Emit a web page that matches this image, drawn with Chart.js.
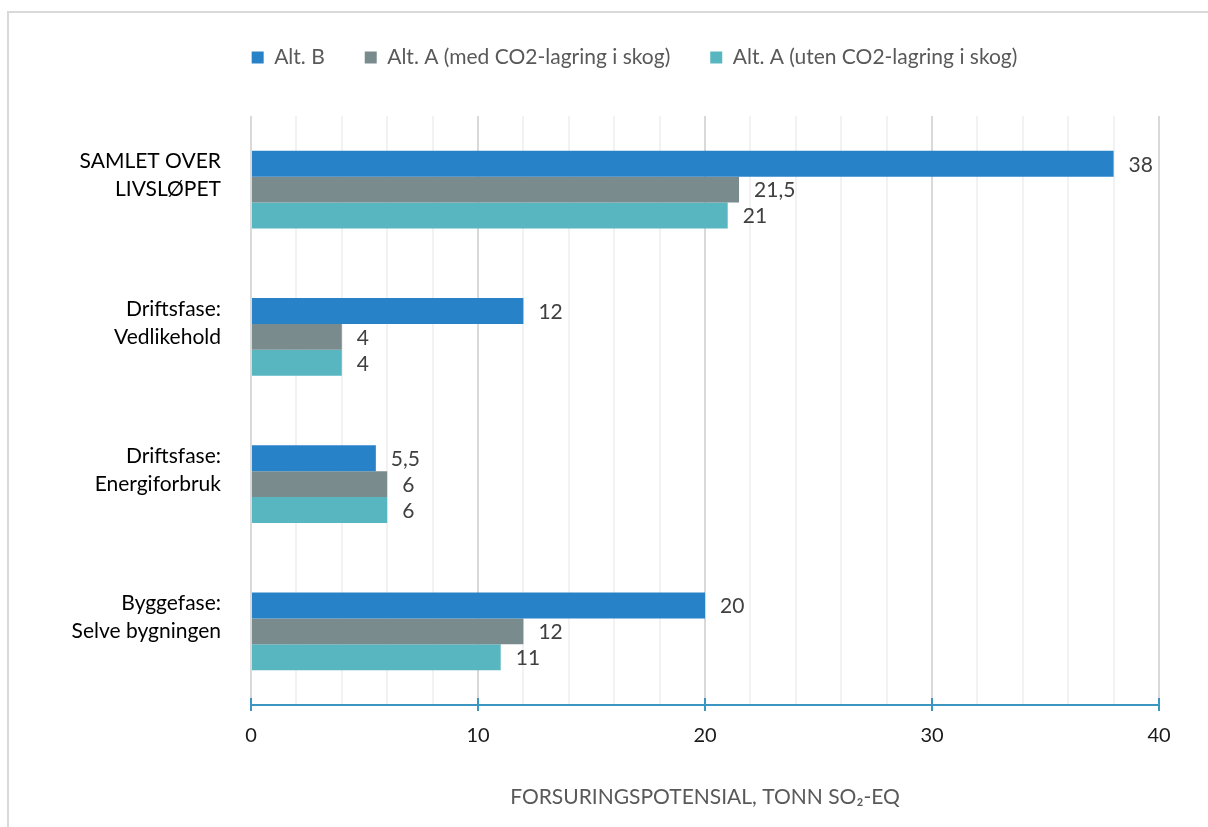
<!DOCTYPE html>
<html>
<head>
<meta charset="utf-8">
<script src="https://cdn.jsdelivr.net/npm/chart.js@4.4.1/dist/chart.umd.min.js"></script>
<style>
  html, body { margin: 0; padding: 0; background: #fff; overflow: hidden; }
  #wrap { position: relative; width: 1208px; height: 827px; }
  #frame { position: absolute; left: 7px; top: 11px; width: 1300px; height: 900px; border: 2px solid #d9d9d9; box-sizing: border-box; }
  canvas { position: absolute; left: 0; top: 0; }
</style>
</head>
<body>
<div id="wrap">
  <div id="frame"></div>
  <canvas id="chart" width="1208" height="827"></canvas>
</div>
<script>
const categories = [
  ["SAMLET OVER", "LIVSLØPET"],
  ["Driftsfase:", "Vedlikehold"],
  ["Driftsfase:", "Energiforbruk"],
  ["Byggefase:", "Selve bygningen"]
];
const seriesNames = ["Alt. B", "Alt. A (med CO2-lagring i skog)", "Alt. A (uten CO2-lagring i skog)"];
const altB = [38, 12, 5.5, 20];
const altAMed = [21.5, 4, 6, 12];
const altAUten = [21, 4, 6, 11];
const xTicks = [0, 10, 20, 30, 40];
const colors = ["#2882c8", "#7a8b8d", "#58b6c0"];

const FONT = "Lato, 'Open Sans', sans-serif";

// value labels with comma decimals, just right of each bar end
const valueLabels = {
  id: "valueLabels",
  afterDatasetsDraw(chart) {
    const ctx = chart.ctx;
    ctx.save();
    ctx.font = "21px " + FONT;
    ctx.fillStyle = "#404040";
    ctx.textAlign = "left";
    ctx.textBaseline = "middle";
    chart.data.datasets.forEach((ds, i) => {
      chart.getDatasetMeta(i).data.forEach((bar, j) => {
        const txt = String(ds.data[j]).replace(".", ",");
        ctx.fillText(txt, bar.x + 15, bar.y + 1);
      });
    });
    ctx.restore();
  }
};

// blue tick marks crossing the x axis line at the labelled values
const axisTicks = {
  id: "axisTicks",
  afterDraw(chart) {
    const ctx = chart.ctx;
    const x = chart.scales.x;
    const y0 = chart.chartArea.bottom;
    ctx.save();
    ctx.strokeStyle = "#3b97c1";
    ctx.lineWidth = 2;
    xTicks.forEach(v => {
      const px = Math.round(x.getPixelForValue(v));
      ctx.beginPath();
      ctx.moveTo(px, y0 - 7);
      ctx.lineTo(px, y0 + 6);
      ctx.stroke();
    });
    ctx.restore();
  }
};

// more room under the legend row, and the row nudged right
const legendGap = {
  id: "legendGap",
  afterInit(chart) {
    const legend = chart.legend;
    const fit = legend.fit;
    legend.fit = function () {
      fit.call(this);
      this.height += 38;
    };
  },
  afterLayout(chart) {
    chart.legend.left += 110;
  }
};

new Chart(document.getElementById("chart"), {
  type: "bar",
  data: {
    labels: categories,
    datasets: [
      { label: seriesNames[0], data: altB, backgroundColor: colors[0] },
      { label: seriesNames[1], data: altAMed, backgroundColor: colors[1] },
      { label: seriesNames[2], data: altAUten, backgroundColor: colors[2] }
    ]
  },
  options: {
    indexAxis: "y",
    responsive: false,
    animation: false,
    layout: { padding: { top: 7, right: 49, left: 0, bottom: 0 } },
    datasets: { bar: { categoryPercentage: 0.527, barPercentage: 1 } },
    plugins: {
      legend: {
        position: "top",
        labels: {
          boxWidth: 12, boxHeight: 12, padding: 40,
          color: "#595959", font: { family: FONT, size: 21 }
        }
      },
      tooltip: { enabled: false }
    },
    scales: {
      x: {
        min: 0, max: 40,
        afterFit(s) { s.height = 122; },
        border: { display: true, color: "#3b97c1", width: 2 },
        grid: {
          drawTicks: false,
          lineWidth: 2,
          color: c => (c.tick.value % 10 === 0 ? "#d9d9d9" : "#f2f2f2")
        },
        ticks: {
          stepSize: 2, padding: 19, maxRotation: 0, autoSkip: false,
          color: "#1a1a1a", font: { family: FONT, size: 20 },
          callback: v => (v % 10 === 0 ? v : "")
        },
        title: {
          display: true,
          text: "FORSURINGSPOTENSIAL, TONN SO₂-EQ",
          color: "#595959",
          font: { family: FONT, size: 21 },
          padding: { top: 0, bottom: 17 }
        }
      },
      y: {
        afterFit(s) { s.width = 251; },
        border: { display: false },
        grid: { display: false },
        ticks: {
          padding: 22, labelOffset: -14,
          color: "#000", font: { family: FONT, size: 21, lineHeight: 1.33 }
        }
      }
    }
  },
  plugins: [valueLabels, axisTicks, legendGap]
});
</script>
</body>
</html>
